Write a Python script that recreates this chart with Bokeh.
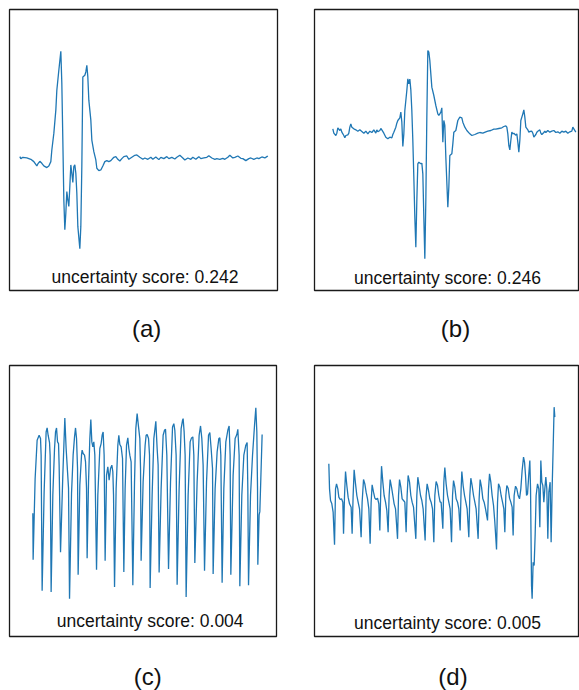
from bokeh.plotting import figure
from bokeh.models import Range1d, Label
from bokeh.layouts import column, row
from bokeh.embed import file_html
from bokeh.resources import INLINE

# ---------------- data (sample index, amplitude) ----------------
a_t = [0, 1, 3, 7, 11, 14, 17, 18, 20, 22, 24, 27, 29, 31, 32, 34, 36, 37, 39, 41,
       42, 43, 44, 45, 46, 47, 48, 49, 50, 51, 52, 53, 54, 55, 56, 57, 58, 60, 61, 62,
       63, 65, 66, 67, 68, 69, 71, 72, 74, 76, 77, 79, 81, 83, 85, 87, 89, 91, 94, 96,
       98, 100, 102, 104, 107, 109, 112, 115, 117, 120, 123, 125, 128, 131, 133, 136,
       139, 141, 144, 147, 149, 152, 155, 157, 160, 163, 165, 168, 171, 173, 176, 179,
       181, 184, 187, 189, 192, 195, 197, 200, 203, 205, 208, 210, 213, 215, 218, 221,
       223, 226, 229, 231, 234, 237, 239, 242, 245, 247, 248]
a_v = [0.00, -0.06, -0.02, -0.04, -0.08, -0.15, -0.28, -0.22, -0.14, -0.20, -0.28, -0.33,
       -0.28, -0.15, 0.20, 0.70, 1.40, 2.00, 2.60, 3.17,
       2.20, 0.50, -1.30, -2.20, -1.70, -1.05, -1.30, -1.50, -0.90, -0.25, -0.50, -0.78,
       -0.30, -0.25, -0.50, -1.10, -2.10, -2.77, -2.10, -0.30,
       2.40, 2.45, 2.55, 2.75, 2.40, 1.70, 1.10, 0.50, 0.15, -0.10, -0.35, -0.42, -0.40,
       -0.28, -0.15, -0.12, -0.15, -0.12, -0.02, 0.00,
       -0.08, -0.13, -0.06, 0.00, 0.02, -0.08, -0.02, 0.04, 0.05, -0.02, -0.08, -0.04,
       -0.08, -0.02, -0.08, -0.01,
       -0.09, -0.02, -0.06, 0.00, -0.06, -0.02, -0.07, -0.02, 0.04, -0.04, -0.10, -0.04,
       -0.08, -0.02, -0.08, 0.00,
       -0.06, -0.04, -0.02, 0.03, -0.04, -0.08, -0.06, -0.08, -0.05, -0.08, -0.02, 0.04,
       -0.04, -0.02, 0.02, -0.05,
       -0.06, -0.12, -0.06, -0.04, -0.08, -0.04, -0.06, -0.01, -0.04, 0.00, 0.02]

b_t = [0, 1, 3, 4, 5, 7, 8, 9, 11, 12, 13, 15, 16, 17, 18, 19, 21, 23, 25, 27, 29, 31,
       33, 35, 37, 39, 41, 43, 44, 45, 47, 48, 49, 51, 53, 55, 57, 59, 60, 61, 63, 64,
       65, 67, 68, 69, 70, 71, 72, 74, 75, 76, 77, 78, 79, 80, 81, 82, 83, 84, 85, 86,
       88, 89, 90, 91, 92, 93, 94, 95, 96, 97, 98, 99, 101, 102, 103, 105, 106, 107,
       108, 109, 110, 111, 112, 113, 115, 116, 117, 119, 120, 121, 123, 124, 125, 127,
       129, 130, 132, 134, 137, 139, 142, 145, 147, 150, 153, 155, 158, 161, 163, 166,
       169, 171, 173, 174, 175, 176, 177, 178, 179, 180, 181, 183, 184, 185, 186, 187,
       188, 190, 191, 192, 193, 195, 196, 197, 199, 200, 201, 203, 204, 205, 207, 208,
       209, 211, 212, 213, 215, 217, 219, 221, 223, 225, 227, 229, 231, 233, 235, 237,
       239, 240, 241, 243]
b_v = [0.05, -0.08, -0.15, -0.08, 0.08, 0.00, 0.05, -0.05, -0.15, -0.22, -0.15, -0.13,
       -0.08, 0.10, 0.20, 0.10, 0.05, 0.02, -0.02, 0.02, -0.03, -0.08,
       -0.02, -0.10, -0.02, -0.06, 0.02, -0.08, 0.02, -0.04, 0.00, 0.06, 0.02, -0.08,
       -0.20, -0.25, -0.20, -0.22, -0.12, -0.05, 0.10, 0.22,
       0.30, 0.38, 0.55, 0.25, -0.48, -0.10, 0.60, 1.20, 1.55, 1.40, 1.54, 1.22, 0.60,
       -0.30, -1.40, -2.60, -3.50, -2.10, -1.00, -0.95,
       -1.00, -0.98, -1.30, -2.60, -3.85, -2.10, 0.40, 2.40, 2.35, 2.10, 1.70, 1.30,
       1.05, 0.90, 0.75, 0.50, 0.45, 0.50,
       0.55, 0.68, -0.35, 0.30, 0.15, -0.80, -2.30, -1.70, -0.75, -0.70, -0.40, -0.05,
       0.00, 0.15, 0.30, 0.40,
       0.38, 0.25, 0.10, 0.00, -0.10, -0.15, -0.12, -0.08, -0.06, -0.08, -0.04, -0.02,
       0.00, 0.04, 0.04, 0.06,
       0.08, 0.12, 0.14, 0.10, -0.10, -0.45, -0.58, -0.30, -0.05, -0.10, -0.08, -0.14,
       -0.10, -0.35, -0.65, -0.30,
       0.30, 0.50, 0.62, 0.40, 0.10, 0.02, -0.05, -0.03, -0.02, -0.08, -0.20, -0.12,
       -0.05, -0.02, 0.02, -0.08,
       -0.12, -0.06, -0.02, -0.06, 0.00, -0.05, -0.02, 0.00, -0.06, -0.04, -0.08, -0.02,
       -0.05, -0.02, -0.08, -0.04,
       -0.02, 0.10, 0.05, -0.05]

c_t = [0.0, 0.3, 2.3, 4.3, 6.3, 7.7, 8.3, 9.3, 11.3, 13.3, 14.3, 15.3, 16.7, 17.3,
       18.3, 20.0, 21.7, 22.7, 23.7, 24.7, 25.7, 26.3, 27.7, 30.0, 32.0, 33.3, 34.7,
       35.7, 36.7, 38.7, 40.3, 41.7, 42.7, 43.7, 44.7, 45.3, 47.0, 48.7, 49.3, 50.3,
       51.7, 52.7, 53.7, 54.3, 55.7, 57.0, 58.0, 59.0, 60.0, 61.0, 62.0, 63.7, 65.0,
       67.0, 68.3, 69.3, 70.3, 71.3, 72.3, 73.7, 75.0, 76.3, 77.7, 79.0, 80.0, 80.7,
       81.7, 83.3, 85.0, 86.0, 87.0, 88.3, 89.7, 91.0, 92.3, 93.7, 95.0, 96.0, 97.0,
       98.3, 100.0, 101.7, 103.0, 104.3, 105.7, 107.0, 107.7, 108.3, 110.3, 112.3,
       113.3, 114.3, 115.7, 116.7, 117.3, 119.3, 121.0, 123.0, 124.3, 125.3, 126.3,
       128.3, 130.3, 131.7, 132.7, 134.0, 135.7, 137.7, 139.7, 141.0, 142.0, 143.3,
       144.3, 146.3, 148.3, 149.7, 150.3, 151.3, 152.3, 153.3, 155.3, 157.3, 158.7,
       160.0, 161.0, 162.0, 164.3, 166.3, 167.7, 169.0, 170.3, 171.7, 173.7, 175.7,
       177.0, 178.3, 179.7, 180.3, 182.3, 184.3, 186.0, 187.0, 188.0, 189.3, 191.0,
       193.0, 195.0, 196.3, 197.3, 198.0, 200.3, 202.3, 204.0, 205.0, 206.3, 207.0,
       209.0, 211.0, 213.0, 214.3, 215.0, 215.7, 217.7, 219.7, 221.7, 223.0, 224.0,
       224.7, 225.0, 226.3, 227.0, 228.0, 229.3]
c_v = [-0.25, -1.65, 0.80, 1.95, 2.10, 2.00, 1.50, -2.58, 0.40, 2.20, 2.32, 2.10, 1.88,
       1.50, -2.62, 0.30, 1.70, 2.20, 2.32, 1.90, 1.85, 1.20, -1.42, 0.90, 2.62, 1.70,
       1.00, 0.50, -2.82, 0.35, 1.50, 2.05, 2.32, 2.00, 1.10, -2.10, 0.60, 1.50, 1.65,
       1.55, 1.50, 1.30, 0.50, -1.60, 0.70, 2.00, 2.57, 1.90, 1.75, 1.90, 1.50, -1.95,
       0.30, 1.70, 1.85, 2.10, 2.20, 1.50, -1.68, 0.90, 1.15, 0.75, 1.10, 1.20, 1.00,
       0.30, -2.47, 0.50, 1.80, 2.10, 1.82, 1.75, 1.40, -2.02, 0.50, 1.80, 2.02, 1.70,
       1.50, 1.30, -2.42, 0.70, 2.30, 2.75, 2.35, 2.00, 1.10, -1.68, 0.70, 1.80, 2.10,
       2.12, 2.00, 1.50, -2.50, 0.30, 2.00, 2.52, 1.70, 1.20, -2.03, 0.50, 2.10, 2.25,
       2.28, 1.50, -1.93, 0.70, 2.35, 2.45, 2.25, 1.50, -2.40, 0.50, 2.30, 2.55, 2.60,
       2.20, 1.50, -2.77, 0.30, 1.90, 2.02, 2.05, 1.50, -1.75, 0.70, 2.10, 2.38, 2.00,
       1.20, -1.98, 0.70, 2.10, 2.18, 1.70, 1.10, -2.08, 0.50, 1.60, 2.00, 2.02, 1.50,
       -2.34, 0.50, 1.90, 2.25, 2.38, 1.50, -2.10, 0.90, 2.00, 2.12, 2.28, 1.50, -2.45,
       0.30, 1.50, 1.80, 1.88, 0.50, -2.42, 0.30, 1.50, 2.40, 2.93, 2.20, 0.50, -1.80,
       -0.30, -0.20, 0.80, 2.12]

d_t = [0.0, 0.7, 1.7, 3.0, 4.3, 5.7, 6.7, 7.7, 9.0, 10.0, 11.3, 12.7, 14.0, 14.7, 15.7,
       16.7, 18.0, 19.3, 20.7, 22.3, 23.3, 24.3, 25.3, 26.7, 28.0, 29.3, 30.7, 32.3,
       33.3, 34.7, 36.0, 37.3, 38.7, 40.0, 41.3, 42.3, 43.3, 44.7, 46.0, 47.3, 48.7,
       50.0, 51.0, 52.0, 52.7, 54.0, 55.3, 56.7, 58.0, 59.3, 60.3, 61.3, 62.7, 64.0,
       65.3, 66.7, 68.7, 69.7, 70.7, 72.0, 73.3, 74.7, 76.0, 77.3, 78.3, 79.3, 80.7,
       82.0, 83.3, 84.7, 87.0, 88.0, 89.0, 90.3, 91.7, 93.0, 94.3, 96.3, 97.3, 98.3,
       99.7, 101.0, 102.3, 103.7, 105.0, 106.0, 107.3, 108.7, 110.0, 111.3, 112.3,
       114.0, 115.0, 116.0, 117.3, 118.7, 120.0, 121.3, 122.7, 123.7, 124.7, 126.0,
       127.3, 128.7, 130.0, 131.3, 132.3, 133.0, 134.3, 135.7, 137.0, 138.3, 140.0,
       141.0, 142.0, 143.3, 144.7, 146.0, 147.3, 149.3, 150.3, 151.3, 152.7, 154.0,
       155.3, 156.7, 158.7, 159.7, 160.7, 162.0, 163.3, 164.7, 166.0, 167.7, 168.7,
       169.7, 171.0, 172.3, 173.7, 175.0, 176.0, 177.0, 178.0, 179.3, 180.7, 182.0,
       183.3, 184.3, 185.3, 186.7, 188.0, 189.3, 190.7, 192.0, 193.3, 194.7, 195.7,
       196.7, 197.7, 198.7, 200.0, 201.0, 201.7, 202.7, 203.3, 204.3, 205.3, 206.3,
       207.3, 208.7, 210.0, 211.0, 212.0, 213.0, 214.0, 215.0, 216.0, 217.0, 218.0,
       219.0, 220.0, 221.3, 222.3, 223.3, 224.3, 225.3, 226.0]
d_v = [1.05, 0.30, -0.05, -0.15, -0.40, -1.38, 0.30, 0.45, 0.30, 0.05, -0.02, 0.00,
       -0.10, -1.05, 0.10, 0.82, 0.40, 0.05, -0.15, -0.25, -1.05, 0.10, 0.87, 0.45,
       0.10, -0.10, -0.30, -1.15, -0.10, 0.58, 0.45, 0.20, 0.00, -0.30, -1.35, -0.10,
       0.42, 0.20, 0.02, -0.02, 0.02, -0.15, -0.95, 0.30, 0.98, 0.50, 0.10, -0.10,
       -0.35, -1.00, 0.10, 0.58, 0.35, 0.10, -0.15, -0.30, -1.20, 0.10, 0.58, 0.35,
       0.00, -0.05, -0.10, -1.00, 0.10, 0.70, 0.50, 0.10, -0.10, -0.25, -1.20, 0.10,
       0.65, 0.40, 0.10, -0.05, -0.30, -1.25, 0.10, 0.45, 0.25, 0.00, -0.10, -0.30,
       -1.30, 0.10, 0.52, 0.40, 0.10, -0.10, -0.10, -0.90, 0.50, 0.94, 0.45, 0.10,
       -0.10, -0.30, -1.30, 0.10, 0.55, 0.35, 0.00, -0.10, -0.30, -0.95, 0.30, 0.82,
       0.40, 0.10, -0.10, -0.30, -1.15, 0.10, 0.62, 0.40, 0.10, -0.10, -0.30, -1.20,
       0.00, 0.58, 0.35, 0.00, -0.10, -0.30, -0.65, 0.30, 0.75, 0.50, 0.10, -0.20,
       -0.70, -1.52, -0.10, 0.45, 0.35, 0.10, -0.10, -0.30, -1.00, 0.10, 0.40, 0.32,
       0.02, -0.10, -0.25, -1.10, 0.10, 0.38, 0.30, 0.10, 0.00, 0.30, 0.85, 1.25, 1.10,
       0.70, 0.10, 0.15, 0.75, 1.15, 0.30, -2.60, -3.00, -1.90, -2.00, -1.10, 0.10,
       0.45, 0.30, -0.85, 1.15, 0.50, 0.40, -0.10, 0.30, 0.65, 0.30, -1.20, 0.20, 0.50,
       -1.30, 0.30, 1.50, 2.75, 2.45]

scores = ["0.242", "0.246", "0.004", "0.005"]
panel_tags = ["(a)", "(b)", "(c)", "(d)"]

LINE = "#1f77b4"
FONT = "Liberation Sans"


def panel(t, v, xr, yr, w, h, borders, score, score_pos):
    left, right, top, bottom = borders
    p = figure(width=w, height=h, output_backend="svg", toolbar_location=None,
               x_range=Range1d(*xr), y_range=Range1d(*yr),
               x_axis_location=None, y_axis_location=None,
               min_border_left=left, min_border_right=right,
               min_border_top=top, min_border_bottom=bottom)
    p.xgrid.visible = False
    p.ygrid.visible = False
    p.outline_line_color = "#1a1a1a"
    p.outline_line_width = 1.3
    p.background_fill_color = "white"
    p.border_fill_color = "white"
    p.line(t, v, line_color=LINE, line_width=1.3)
    p.add_layout(Label(x=score_pos[0], y=score_pos[1], x_units="screen", y_units="screen",
                       text="uncertainty score: " + score, text_align="center",
                       text_baseline="alphabetic", text_font=FONT,
                       text_font_size="17.5px", text_color="#111111"))
    return p


def tag_strip(tag, w, h, pos):
    t = figure(width=w, height=h, output_backend="svg", toolbar_location=None,
               x_range=Range1d(0, 1), y_range=Range1d(0, 1),
               x_axis_location=None, y_axis_location=None,
               min_border=0, min_border_left=0, min_border_right=0,
               min_border_top=0, min_border_bottom=0)
    t.xgrid.visible = False
    t.ygrid.visible = False
    t.outline_line_color = None
    t.background_fill_color = "white"
    t.border_fill_color = "white"
    t.add_layout(Label(x=pos[0], y=pos[1], x_units="screen", y_units="screen",
                       text=tag, text_align="center", text_baseline="middle",
                       text_font=FONT, text_font_size="24px", text_color="#111111"))
    return t


pa = panel(a_t, a_v, (-10.33, 257.67), (-4.03, 4.43), 298, 301, (9, 21, 9, 10),
           scores[0], (135.5, 14))
pb = panel(b_t, b_v, (-18.33, 246.67), (-4.80, 3.63), 281, 301, (16, 0, 9, 11),
           scores[1], (133, 13))
pc = panel(c_t, c_v, (-23.33, 243.67), (-3.96, 4.20), 298, 301, (9, 22, 8, 21),
           scores[2], (140.7, 16))
pd = panel(d_t, d_v, (-14.33, 250.67), (-4.13, 4.00), 281, 301, (16, 0, 8, 22),
           scores[3], (133, 14))

ta = tag_strip(panel_tags[0], 298, 56, (146.2, 29.5))
tb = tag_strip(panel_tags[1], 281, 56, (157, 29.5))
tc = tag_strip(panel_tags[2], 298, 32, (147.3, 14))
td = tag_strip(panel_tags[3], 281, 32, (154.5, 14))

layout = column(row(pa, pb), row(ta, tb), row(pc, pd), row(tc, td))

open("out.html", "w").write(file_html(layout, INLINE))
